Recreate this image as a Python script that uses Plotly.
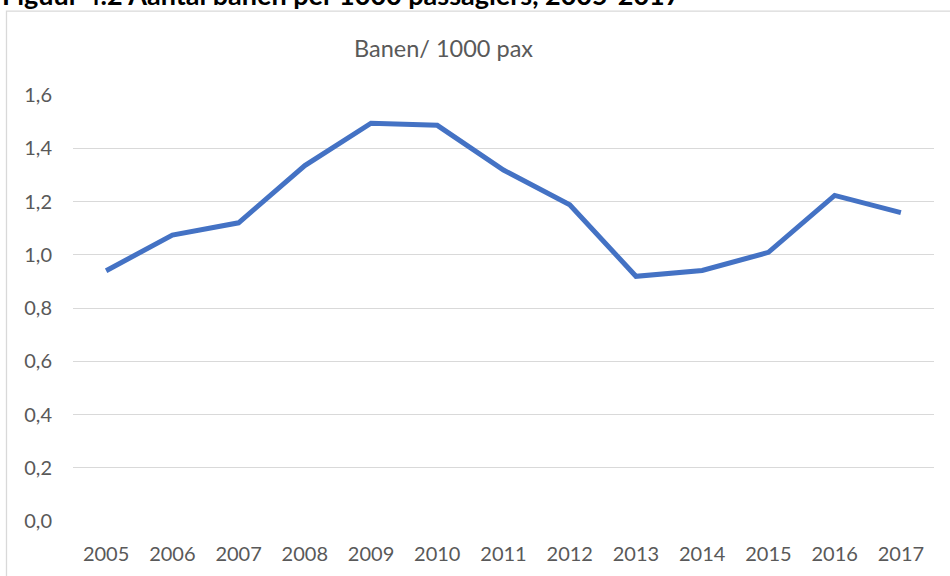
import plotly.graph_objects as go

years = ["2005", "2006", "2007", "2008", "2009", "2010", "2011", "2012", "2013", "2014", "2015", "2016", "2017"]
banen_per_1000_pax = [0.94, 1.074, 1.12, 1.335, 1.494, 1.486, 1.318, 1.188, 0.919, 0.941, 1.009, 1.223, 1.158]
y_ticks = [0.0, 0.2, 0.4, 0.6, 0.8, 1.0, 1.2, 1.4, 1.6]

W, H = 950, 576
L, R, T, B = 73, 16, 94.5, 55
pw, ph = W - L - R, H - T - B

def px_x(x):  # page x -> paper x
    return (x - L) / pw

def px_y(y):  # page y -> paper y
    return (H - B - y) / ph

FONT = "Lato"
GREY = "#595959"

fig = go.Figure()
fig.add_trace(go.Scatter(
    x=years, y=banen_per_1000_pax, mode="lines",
    line=dict(color="#4472C4", width=5),
    hoverinfo="x+y", showlegend=False,
))

fig.update_layout(
    width=W, height=H,
    margin=dict(l=L, r=R, t=T, b=B),
    paper_bgcolor="white", plot_bgcolor="white",
    separators=",.",
    font=dict(family=FONT, color=GREY, size=20),
    xaxis=dict(type="category", range=[-0.5, 12.5], showgrid=False, zeroline=False,
               showline=False, ticks="", tickfont=dict(size=20, color=GREY)),
    yaxis=dict(range=[0, 1.6], tickvals=y_ticks, tickformat=".1f", showgrid=True,
               gridcolor="#D9D9D9", gridwidth=1.3, zeroline=False, showline=False,
               ticks="", tickfont=dict(size=20, color=GREY)),
    shapes=[dict(type="rect", xref="paper", yref="paper",
                 x0=px_x(6.5), x1=px_x(1000), y0=px_y(700), y1=px_y(10.5),
                 line=dict(color="#D9D9D9", width=1.3), fillcolor="rgba(0,0,0,0)", layer="below")],
    annotations=[
        dict(text="Banen/ 1000 pax", xref="paper", yref="paper", x=px_x(443), y=px_y(47),
             xanchor="center", yanchor="middle", showarrow=False,
             font=dict(size=23.5, color=GREY, family=FONT)),
        dict(text="<b>Figuur 4.2 Aantal banen per 1000 passagiers, 2005-2017</b>",
             xref="paper", yref="paper", x=px_x(0), y=px_y(12.5), xanchor="left", yanchor="bottom",
             showarrow=False, font=dict(size=27, color="#000000", family=FONT)),
    ],
)
fig.update_xaxes(ticklabelstandoff=19)
fig.update_yaxes(ticklabelstandoff=20)

fig.write_html("out.html", config={"displayModeBar": False},
               post_script="document.body.style.margin='0';")
